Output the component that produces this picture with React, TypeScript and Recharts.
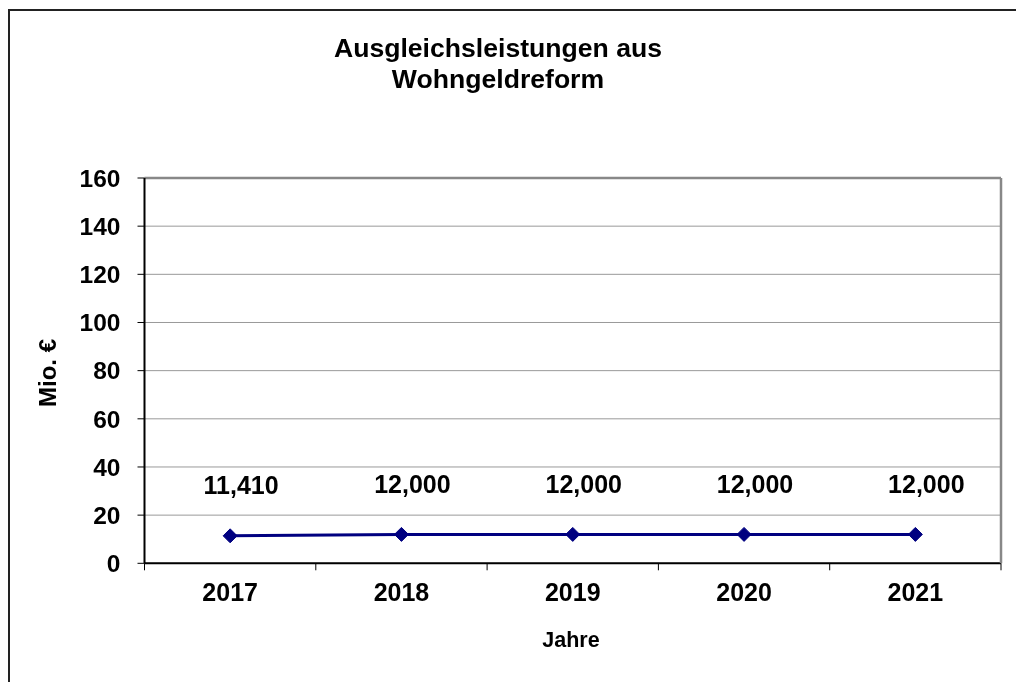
import React from 'react';
import {
  LineChart,
  Line,
  XAxis,
  YAxis,
  CartesianGrid,
  ReferenceLine,
  LabelList,
} from 'recharts';

const years = ['2017', '2018', '2019', '2020', '2021'];
const values = [11.41, 12.0, 12.0, 12.0, 12.0];
const yTicks = [0, 20, 40, 60, 80, 100, 120, 140, 160];
const titleLines = ['Ausgleichsleistungen aus', 'Wohngeldreform'];
const xTitle = 'Jahre';
const yTitle = 'Mio. €';

const data = years.map((y, i) => ({ year: y, value: values[i] }));

const W = 1008;
const H = 674;
const Y_AXIS_W = 136.5;
const MARGIN_RIGHT = 14;
const RIGHT_AXIS_W = 1;
const PLOT_LEFT = Y_AXIS_W;
const PLOT_RIGHT = W - MARGIN_RIGHT - RIGHT_AXIS_W;
const BAND = (PLOT_RIGHT - PLOT_LEFT) / years.length;
const FONT = '"Liberation Sans", Arial, Helvetica, sans-serif';
const NAVY = '#000080';

const XTick = (props: any) => {
  const { x, y, payload, index } = props;
  const last = index === years.length - 1;
  return (
    <g>
      <line x1={x - BAND / 2} x2={x - BAND / 2} y1={y} y2={y + 7} stroke="#000" strokeWidth={1} />
      {last && (
        <line x1={x + BAND / 2} x2={x + BAND / 2} y1={y} y2={y + 7} stroke="#000" strokeWidth={1} />
      )}
      <text
        x={x}
        y={y + 38}
        textAnchor="middle"
        fontFamily={FONT}
        fontWeight="bold"
        fontSize={25}
        fill="#000"
      >
        {payload.value}
      </text>
    </g>
  );
};

const Diamond = (props: any) => {
  const { cx, cy } = props;
  if (cx == null || cy == null) return null;
  const r = 7;
  return (
    <path
      d={`M${cx},${cy - r} L${cx + r},${cy} L${cx},${cy + r} L${cx - r},${cy} Z`}
      fill={NAVY}
      stroke={NAVY}
      strokeWidth={1}
    />
  );
};

const ValueLabel = (props: any) => {
  const { x, y, value } = props;
  return (
    <text
      x={x + 11}
      y={y - 41.5}
      textAnchor="middle"
      fontFamily={FONT}
      fontWeight="bold"
      fontSize={25}
      fill="#000"
    >
      {Number(value).toFixed(3).replace('.', ',')}
    </text>
  );
};

export default function App() {
  return (
    <>
      <div
        style={{
          position: 'fixed',
          left: 8,
          top: 9,
          width: 1200,
          height: 1000,
          borderLeft: '2px solid #222',
          borderTop: '2px solid #222',
          boxSizing: 'border-box',
          zIndex: 0,
        }}
      />
      <div style={{ position: 'relative', width: 1000, height: 666, overflow: 'hidden', zIndex: 1 }}>
        <div style={{ position: 'absolute', left: 0, top: 0 }}>
          <LineChart
            width={W}
            height={H}
            data={data}
            margin={{ top: 170, right: MARGIN_RIGHT, bottom: 78.7, left: 0 }}
          >
            <CartesianGrid yAxisId="left" vertical={false} stroke="#999" strokeWidth={1} />
            <XAxis
              dataKey="year"
              scale="band"
              height={40}
              tickSize={0}
              tickMargin={0}
              tickLine={false}
              axisLine={{ stroke: '#000', strokeWidth: 2 }}
              tick={<XTick />}
              interval={0}
            />
            <YAxis
              yAxisId="left"
              width={Y_AXIS_W}
              domain={[0, 160]}
              ticks={yTicks}
              interval={0}
              tickSize={7}
              tickMargin={17}
              tickLine={{ stroke: '#000', strokeWidth: 1 }}
              axisLine={{ stroke: '#000', strokeWidth: 2 }}
              tick={{ fontFamily: FONT, fontWeight: 'bold', fontSize: 24.5, fill: '#000' }}
            />
            <YAxis
              yAxisId="right"
              orientation="right"
              width={RIGHT_AXIS_W}
              domain={[0, 160]}
              tick={false}
              tickLine={false}
              axisLine={{ stroke: '#888', strokeWidth: 2.5 }}
            />
            <ReferenceLine yAxisId="left" y={160} stroke="#888" strokeWidth={2.5} />
            <Line
              yAxisId="left"
              type="linear"
              dataKey="value"
              stroke={NAVY}
              strokeWidth={3}
              dot={<Diamond />}
              activeDot={false}
              isAnimationActive={false}
            >
              <LabelList dataKey="value" content={<ValueLabel />} />
            </Line>
          </LineChart>
        </div>
        <svg
          width={W}
          height={H}
          style={{ position: 'absolute', left: 0, top: 0, pointerEvents: 'none' }}
        >
          <text x={490} y={49} textAnchor="middle" fontFamily={FONT} fontWeight="bold" fontSize={26.6} fill="#000">
            {titleLines[0]}
          </text>
          <text x={490} y={80} textAnchor="middle" fontFamily={FONT} fontWeight="bold" fontSize={26.6} fill="#000">
            {titleLines[1]}
          </text>
          <text x={563} y={638.7} textAnchor="middle" fontFamily={FONT} fontWeight="bold" fontSize={21.5} fill="#000">
            {xTitle}
          </text>
          <text
            x={0}
            y={0}
            transform="translate(48,365) rotate(-90)"
            textAnchor="middle"
            fontFamily={FONT}
            fontWeight="bold"
            fontSize={24}
            fill="#000"
          >
            {yTitle}
          </text>
        </svg>
      </div>
    </>
  );
}
